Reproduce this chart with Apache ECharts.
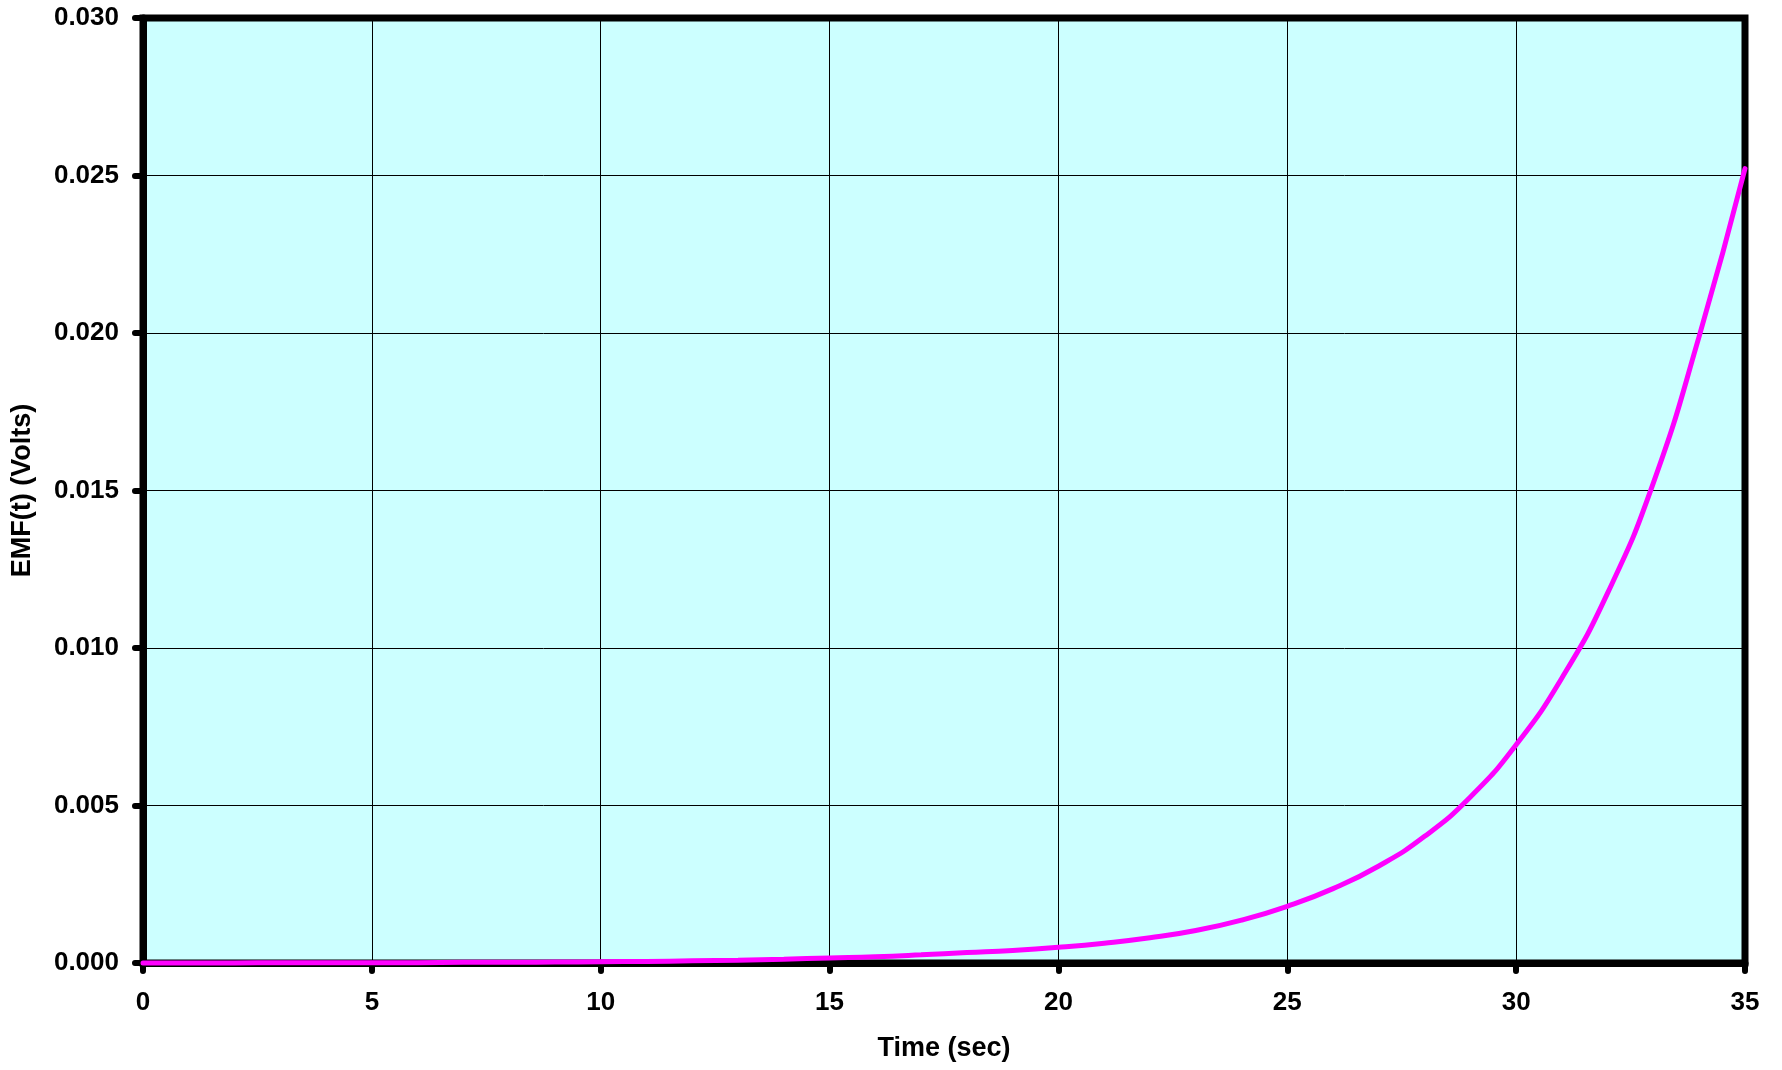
<!DOCTYPE html>
<html>
<head>
<meta charset="utf-8">
<script src="https://cdn.jsdelivr.net/npm/echarts@6/dist/echarts.min.js"></script>
<style>
html,body{margin:0;padding:0;background:#fff;}
#chart{width:1782px;height:1070px;}
</style>
</head>
<body>
<div id="chart"></div>
<script>
// Time (sec)
var timeValues = [0,1,2,3,4,5,6,7,8,9,10,11,12,13,14,15,16,17,18,19,20,21,22,23,24,25,26,27,28,29,30,31,32,33,34,35];
// EMF(t) (Volts)
var emfValues = [0.00000,0.00000,0.00000,0.00001,0.00001,0.00001,0.00001,0.00002,0.00002,0.00003,0.00004,0.00005,0.00007,0.00009,0.00012,0.00016,0.00020,0.00026,0.00033,0.00040,0.00050,0.00063,0.00080,0.00103,0.00136,0.00180,0.00236,0.00308,0.00402,0.00527,0.00693,0.00905,0.01175,0.01525,0.01990,0.02522];
var xTicks = [0,5,10,15,20,25,30,35];
var yTicks = [0.000,0.005,0.010,0.015,0.020,0.025,0.030];

var data = timeValues.map(function(t,i){return [t, emfValues[i]];});
var font = "'Liberation Sans', Arial, sans-serif";
var chart = echarts.init(document.getElementById('chart'), null, {renderer:'canvas'});
chart.setOption({
  animation:false,
  backgroundColor:'#ffffff',
  grid:{left:143,right:37,top:18,bottom:107,show:true,backgroundColor:'#CCFFFF',borderColor:'#000',borderWidth:7},
  xAxis:{
    type:'value',min:xTicks[0],max:xTicks[xTicks.length-1],interval:5,
    name:'Time (sec)',nameLocation:'middle',nameGap:72,
    nameTextStyle:{fontFamily:font,fontWeight:'bold',fontSize:27,color:'#000'},
    axisLine:{show:true,lineStyle:{color:'#000',width:7}},
    axisTick:{show:true,length:8,lineStyle:{color:'#000',width:6,cap:'round'}},
    axisLabel:{margin:27,fontFamily:font,fontWeight:'bold',fontSize:26,color:'#000'},
    splitLine:{show:true,lineStyle:{color:'#000',width:1}}
  },
  yAxis:{
    type:'value',min:yTicks[0],max:yTicks[yTicks.length-1],interval:0.005,
    name:'EMF(t) (Volts)',nameLocation:'middle',nameGap:107,
    nameTextStyle:{fontFamily:font,fontWeight:'bold',fontSize:27,color:'#000'},
    axisLine:{show:true,lineStyle:{color:'#000',width:7}},
    axisTick:{show:true,length:8,lineStyle:{color:'#000',width:6,cap:'round'}},
    axisLabel:{margin:24,fontFamily:font,fontWeight:'bold',fontSize:26,color:'#000',
      formatter:function(v){return v.toFixed(3);}},
    splitLine:{show:true,lineStyle:{color:'#000',width:1}}
  },
  series:[{
    type:'line',data:data,smooth:0.5,showSymbol:false,symbol:'none',
    lineStyle:{color:'#FF00FF',width:5,cap:'round'},
    clip:false,z:3
  }]
});
</script>
</body>
</html>
